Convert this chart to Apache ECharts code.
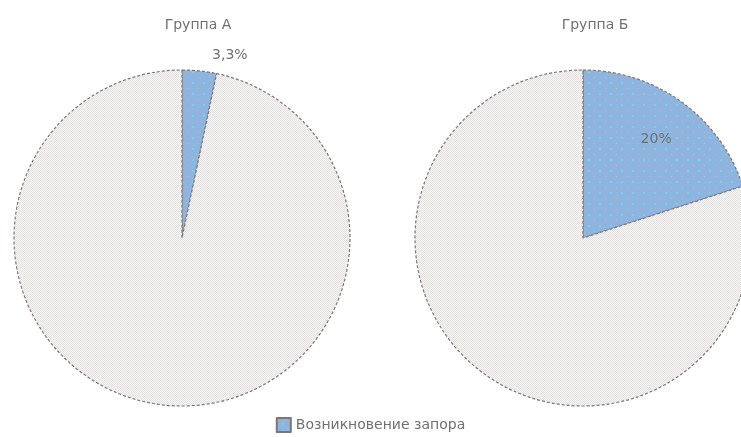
<!DOCTYPE html>
<html>
<head>
<meta charset="utf-8">
<script src="https://cdn.jsdelivr.net/npm/echarts@6/dist/echarts.min.js"></script>
<style>
  html, body { margin: 0; padding: 0; background: #ffffff; }
  #chart { width: 741px; height: 437px; }
</style>
</head>
<body>
<div id="chart"></div>
<script>
// Доли пациентов с запором в двух группах (%)
const groups = ['Группа А', 'Группа Б'];
const eventName = 'Возникновение запора';
const otherName = 'Без запора';
const eventShare = [3.3, 20];
const otherShare = [96.7, 80];

// Dotted blue fill
function dotPattern() {
  const c = document.createElement('canvas');
  c.width = 11; c.height = 11;
  const g = c.getContext('2d');
  g.fillStyle = '#8fb4dd';
  g.fillRect(0, 0, 11, 11);
  g.fillStyle = '#6ed3f2';
  g.fillRect(5, 5, 2, 2);
  g.fillStyle = '#9dc3e6';
  g.fillRect(0, 0, 1, 1);
  return c;
}
// Fine checkered grey fill
function checkPattern() {
  const c = document.createElement('canvas');
  c.width = 2; c.height = 2;
  const g = c.getContext('2d');
  g.fillStyle = '#f5f4f4';
  g.fillRect(0, 0, 2, 2);
  g.fillStyle = '#e6e3e3';
  g.fillRect(0, 0, 1, 1);
  g.fillRect(1, 1, 1, 1);
  return c;
}
const blueFill = { image: dotPattern(), repeat: 'repeat' };
const greyFill = { image: checkPattern(), repeat: 'repeat' };

const FONT = "'DejaVu Sans', 'Liberation Sans', sans-serif";
const TEXT_COLOR = '#707070';
const fmt = p => String(p.value).replace('.', ',') + '%';
const centers = [[182, 238], [583, 238]];
const titleX = [193, 590];
const labelStyles = [
  { position: 'outside', distance: 4 },
  { position: 'inside', offset: [22, -28] }
];

const chart = echarts.init(document.getElementById('chart'));
chart.setOption({
  animation: false,
  textStyle: { fontFamily: FONT },
  title: groups.map((g, i) => ({
    text: g,
    left: titleX[i],
    top: 13,
    textAlign: 'center',
    textStyle: { fontSize: 14, fontWeight: 'normal', color: TEXT_COLOR, fontFamily: FONT }
  })),
  legend: {
    data: [eventName],
    top: 417,
    left: 'center',
    padding: 0,
    icon: 'rect',
    itemWidth: 14,
    itemHeight: 14,
    itemGap: 8,
    textStyle: { fontSize: 14, color: TEXT_COLOR, fontFamily: FONT }
  },
  series: groups.map((g, i) => ({
    type: 'pie',
    name: g,
    center: centers[i],
    radius: 168,
    startAngle: 90,
    clockwise: true,
    silent: true,
    avoidLabelOverlap: false,
    itemStyle: {
      borderColor: '#7f7575',
      borderWidth: 1.2,
      borderType: [3, 2]
    },
    label: Object.assign({
      formatter: fmt,
      fontSize: 14,
      color: TEXT_COLOR,
      fontFamily: FONT
    }, labelStyles[i]),
    labelLine: { show: false, length: 16, length2: 6 },
    data: [
      { name: eventName, value: eventShare[i], itemStyle: { color: blueFill } },
      { name: otherName, value: otherShare[i], itemStyle: { color: greyFill },
        label: { show: false } }
    ]
  }))
});
</script>
</body>
</html>
